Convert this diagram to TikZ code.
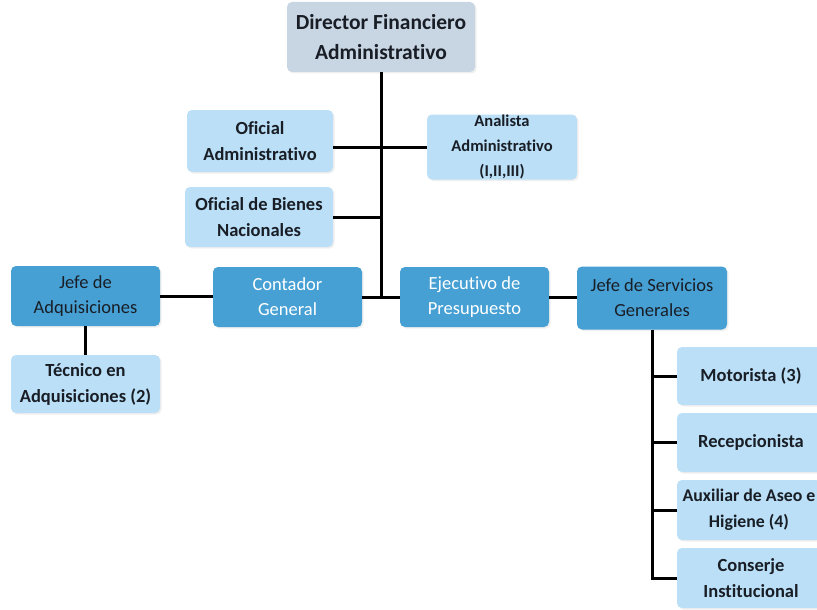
\documentclass[tikz,border=0pt]{standalone}
\usepackage{fontspec}
\setmainfont{Carlito}[Ligatures={NoCommon,NoRequired,NoContextual}]
\usetikzlibrary{shadows}
\definecolor{lightbox}{RGB}{186,223,246}
\definecolor{darkbox}{RGB}{70,160,212}
\definecolor{dirbox}{RGB}{200,213,226}
\definecolor{txt}{RGB}{25,30,38}
\begin{document}
\begin{tikzpicture}[x=1pt,y=-1pt,
  base/.style={rounded corners=5pt, align=center, inner sep=0pt,
    drop shadow={opacity=0.12, shadow xshift=1.5pt, shadow yshift=-1.5pt}},
  litebox/.style={base, fill=lightbox, text=txt, font=\fontsize{18.5}{26}\selectfont\bfseries},
  deepbox/.style={base, fill=darkbox, text=txt, font=\fontsize{18.5}{25}\selectfont},
  deepwhite/.style={deepbox, text=white},
  dirstyle/.style={base, fill=dirbox, text=txt, font=\fontsize{21.5}{30}\selectfont\bfseries},
  link/.style={line width=3pt, black}]
\useasboundingbox (0,0) rectangle (817,610);
\clip (0,0) rectangle (817,610);
\fill[white] (0,0) rectangle (817,610);

\node[dirstyle, minimum width=188pt, minimum height=70pt] (dir) at (381,37) {Director Financiero\\Administrativo};
\node[litebox, minimum width=146pt, minimum height=62pt] (ofa) at (260,141) {Oficial\\Administrativo};
\node[litebox, minimum width=150pt, minimum height=65pt, font=\fontsize{16.5}{25}\selectfont\bfseries] (ana) at (502,147) {Analista\\Administrativo\\(I,II,III)};
\node[litebox, minimum width=148pt, minimum height=60pt] (ofb) at (259,217) {Oficial de Bienes\\Nacionales};
\node[deepbox, minimum width=149pt, minimum height=60pt] (jad) at (85.5,296) {Jefe de\\Adquisiciones};
\node[deepwhite, minimum width=149pt, minimum height=60pt] (con) at (287.5,297) {Contador\\General};
\node[deepwhite, minimum width=149pt, minimum height=60pt] (eje) at (474.5,297) {Ejecutivo de\\Presupuesto};
\node[deepbox, minimum width=150pt, minimum height=63pt] (jsg) at (652,298) {Jefe de Servicios\\Generales};
\node[litebox, minimum width=149pt, minimum height=58pt] (tec) at (85.5,384) {Técnico en\\Adquisiciones (2)};
\node[litebox, minimum width=148pt, minimum height=58pt] (mot) at (751,376) {Motorista (3)};
\node[litebox, minimum width=148pt, minimum height=59pt] (rec) at (751,442.5) {Recepcionista};
\node[litebox, minimum width=144pt, minimum height=60pt, font=\fontsize{17.8}{26}\selectfont\bfseries] (aux) at (749,510) {Auxiliar de Aseo e\\Higiene (4)};
\node[litebox, minimum width=148pt, minimum height=60pt] (cons) at (751,578) {Conserje\\Institucional};

\draw[link] (dir.south) -- (dir.south |- con.east);
\draw[link] (con.east) -- (eje.west);
\draw[link] (ofa.east |- ana.west) -- (ana.west);
\draw[link] (ofb.east) -- (dir.south |- ofb.east);
\draw[link] (jad.east) -- (jad.east -| con.west);
\draw[link] (eje.east) -- (eje.east -| jsg.west);
\draw[link] (jad.south) -- (tec.north);
\draw[link] (jsg.south) |- (cons.west);
\draw[link] (jsg.south |- mot.west) -- (mot.west);
\draw[link] (jsg.south |- rec.west) -- (rec.west);
\draw[link] (jsg.south |- aux.west) -- (aux.west);
\end{tikzpicture}
\end{document}
